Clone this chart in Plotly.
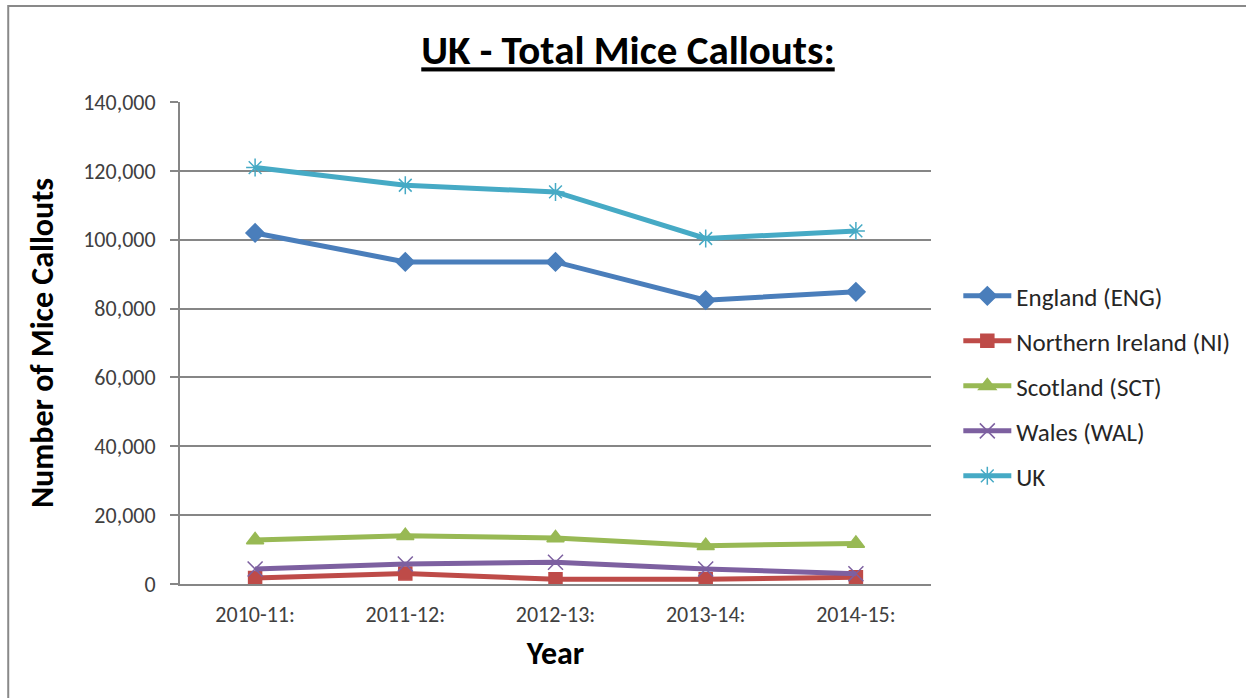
import plotly.graph_objects as go

years = ["2010-11:", "2011-12:", "2012-13:", "2013-14:", "2014-15:"]
england = [101970, 93560, 93560, 82440, 84850]
n_ireland = [1740, 3080, 1350, 1350, 1930]
scotland = [12770, 14020, 13350, 11120, 11790]
wales = [4350, 5800, 6290, 4350, 3000]
uk = [120950, 115820, 113880, 100350, 102560]

series = [
    ("England (ENG)", england, "#4A7EBB", "diamond", 14),
    ("Northern Ireland (NI)", n_ireland, "#BE4B48", "square", 13),
    ("Scotland (SCT)", scotland, "#98B954", "triangle-up", 15),
    ("Wales (WAL)", wales, "#7D60A0", "x-thin-open", 15),
    ("UK", uk, "#46AAC5", "asterisk-open", 15),
]

FONT = "Carlito, Calibri, Lato, sans-serif"

fig = go.Figure()
for i, (name, vals, color, sym, sz) in enumerate(series):
    fig.add_trace(go.Scatter(
        x=years, y=vals, name=name, mode="lines+markers",
        legendgroup=f"g{i}",
        line=dict(color=color, width=5),
        marker=dict(symbol=sym, size=sz, color=color,
                    line=dict(color=color, width=1.5)),
    ))

fig.update_layout(
    width=1246, height=698,
    margin=dict(l=180, r=314, t=102, b=114),
    paper_bgcolor="white", plot_bgcolor="white",
    font=dict(family=FONT, color="#404040", size=22),
    title=dict(text="<u><b>UK - Total Mice Callouts:</b></u>",
               x=628 / 1246, xanchor="center", y=1 - 50 / 698, yanchor="middle",
               font=dict(family=FONT, size=41, color="black")),
    xaxis=dict(type="category", range=[-0.5, 4.5], showgrid=False,
               showline=True, linecolor="#868686", linewidth=2,
               ticks="", tickfont=dict(size=22, color="#404040"),
               ticklabelstandoff=10,
               title=dict(text="<b>Year</b>", font=dict(size=32, color="black"), standoff=14)),
    yaxis=dict(range=[0, 140000], dtick=20000, tickformat=",",
               showgrid=True, gridcolor="#868686", gridwidth=2,
               showline=True, linecolor="#868686", linewidth=2,
               ticks="outside", ticklen=8, tickcolor="#868686", tickwidth=2,
               ticklabelstandoff=10,
               zeroline=False, tickfont=dict(size=22, color="#404040"),
               title=dict(text="<b>Number of Mice Callouts</b>", font=dict(size=32, color="black"), standoff=20)),
    legend=dict(x=1.035, y=0.645, xanchor="left", yanchor="top",
                tracegroupgap=9.5, itemwidth=48,
                font=dict(size=25, color="#262626"),
                bgcolor="rgba(0,0,0,0)"),
    showlegend=True,
)

fig.add_shape(type="rect", xref="paper", yref="paper",
              x0=(8 - 180) / 752, x1=1.6, y0=-0.5, y1=(584 - 6) / 482,
              line=dict(color="#898989", width=2), fillcolor="rgba(0,0,0,0)", layer="below")

fig.write_html("out.html", config={"displayModeBar": False},
               post_script="document.body.style.margin='0px';")
